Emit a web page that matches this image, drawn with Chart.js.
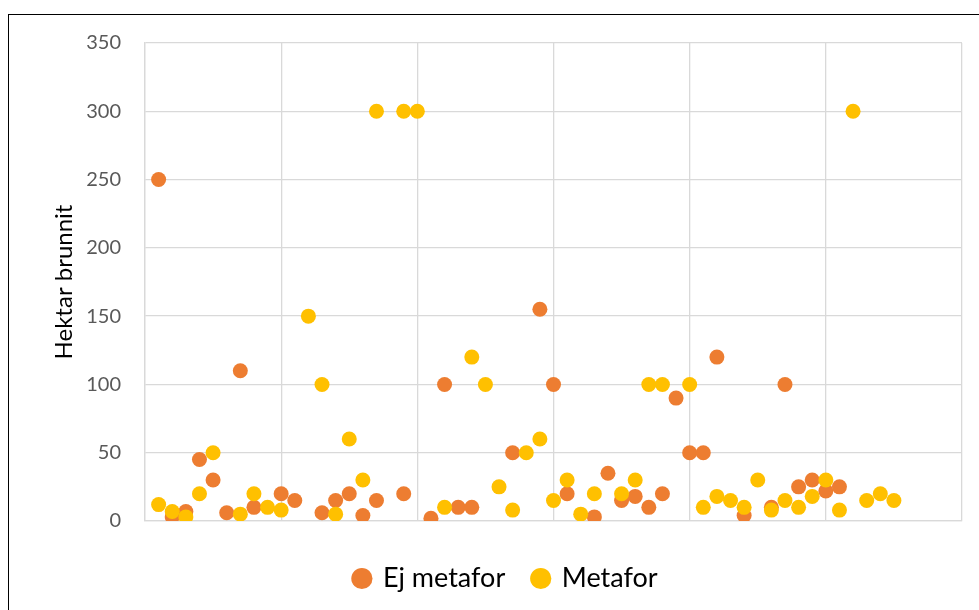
<!DOCTYPE html>
<html>
<head>
<meta charset="utf-8">
<script src="https://cdn.jsdelivr.net/npm/chart.js@4.4.1/dist/chart.umd.min.js"></script>
<style>
    html, body { margin: 0; padding: 0; background: #fff; overflow: hidden; }
    #wrap { position: relative; width: 979px; height: 610px; }
    #frame { position: absolute; left: 8px; top: 14px; width: 1200px; height: 800px; border-left: 1.5px solid #000; border-top: 1.5px solid #000; pointer-events: none; }
    canvas { position: absolute; left: 0; top: 0; }
</style>
</head>
<body>
<div id="wrap">
    <canvas id="scatterChart" width="979" height="610"></canvas>
    <div id="frame"></div>
</div>
<script>
// Observation number (x position) for each point
const observations = [
    1, 2, 3, 4, 5, 6, 7, 8, 9, 10,
    11, 12, 13, 14, 15, 16, 17, 18, 19, 20,
    21, 22, 23, 24, 25, 26, 27, 28, 29, 30,
    31, 32, 33, 34, 35, 36, 37, 38, 39, 40,
    41, 42, 43, 44, 45, 46, 47, 48, 49, 50,
    51, 52, 53, 54, 55
];

// Hectares burnt, null where the series has no point
const ejMetafor = [
    250, 3, 7, 45, 30, 6, 110, 10, null, 20,
    15, null, 6, 15, 20, 4, 15, null, 20, null,
    2, 100, 10, 10, null, null, 50, null, 155, 100,
    20, null, 3, 35, 15, 18, 10, 20, 90, 50,
    50, 120, null, 4, null, 10, 100, 25, 30, 22,
    25, null, null, null, null
];

const metafor = [
    12, 7, 3, 20, 50, null, 5, 20, 10, 8,
    null, 150, 100, 5, 60, 30, 300, null, 300, 300,
    null, 10, null, 120, 100, 25, 8, 50, 60, 15,
    30, 5, 20, null, 20, 30, 100, 100, null, 100,
    10, 18, 15, 10, 30, 8, 15, 10, 18, 30,
    8, 300, 15, 20, 15
];

const yTicks = [0, 50, 100, 150, 200, 250, 300, 350];
const xGridMax = 60;

const colors = {
    ejMetafor: '#ED7D31',
    metafor: '#FFC000',
    grid: '#D9D9D9',
    tickText: '#595959'
};

// Build {x, y} points, skipping gaps
function toPoints(values) {
    return observations
        .map((x, i) => ({ x, y: values[i] }))
        .filter(p => p.y !== null);
}

function createScatterChart(canvasId) {
    const ctx = document.getElementById(canvasId).getContext('2d');
    return new Chart(ctx, {
        type: 'scatter',
        data: {
            datasets: [
                {
                    label: 'Ej metafor',
                    data: toPoints(ejMetafor),
                    backgroundColor: colors.ejMetafor,
                    borderColor: colors.ejMetafor,
                    borderWidth: 0,
                    pointRadius: 7.5,
                    pointHoverRadius: 7.5,
                    order: 2
                },
                {
                    label: 'Metafor',
                    data: toPoints(metafor),
                    backgroundColor: colors.metafor,
                    borderColor: colors.metafor,
                    borderWidth: 0,
                    pointRadius: 7.5,
                    pointHoverRadius: 7.5,
                    order: 1
                }
            ]
        },
        options: {
            responsive: false,
            animation: false,
            layout: { padding: { left: 50, right: 17, top: 43, bottom: 8 } },
            plugins: {
                tooltip: { enabled: false },
                legend: {
                    position: 'bottom',
                    labels: {
                        usePointStyle: true,
                        pointStyle: 'circle',
                        boxWidth: 15,
                        boxHeight: 15,
                        padding: 28,
                        color: '#000',
                        font: { family: 'Lato', size: 27 },
                        sort: (a, b) => a.datasetIndex - b.datasetIndex
                    }
                }
            },
            scales: {
                x: {
                    type: 'linear',
                    min: 0,
                    max: xGridMax,
                    afterFit: (scale) => { scale.height = 16; },
                    ticks: { display: false, stepSize: 10 },
                    grid: { color: colors.grid, lineWidth: 1.3, drawTicks: false },
                    border: { color: colors.grid, width: 1.3 }
                },
                y: {
                    min: 0,
                    max: 350,
                    afterFit: (scale) => { scale.width = 95; },
                    afterBuildTicks: (scale) => { scale.ticks = yTicks.map(v => ({ value: v })); },
                    ticks: {
                        color: colors.tickText,
                        padding: 24,
                        font: { family: 'Lato', size: 20 }
                    },
                    grid: { color: colors.grid, lineWidth: 1.3, drawTicks: false },
                    border: { color: colors.grid, width: 1.3 },
                    title: {
                        display: true,
                        text: 'Hektar brunnit',
                        color: '#000',
                        padding: { top: 0, bottom: 0 },
                        font: { family: 'Lato', size: 24 }
                    }
                }
            }
        }
    });
}

createScatterChart('scatterChart');
</script>
</body>
</html>
